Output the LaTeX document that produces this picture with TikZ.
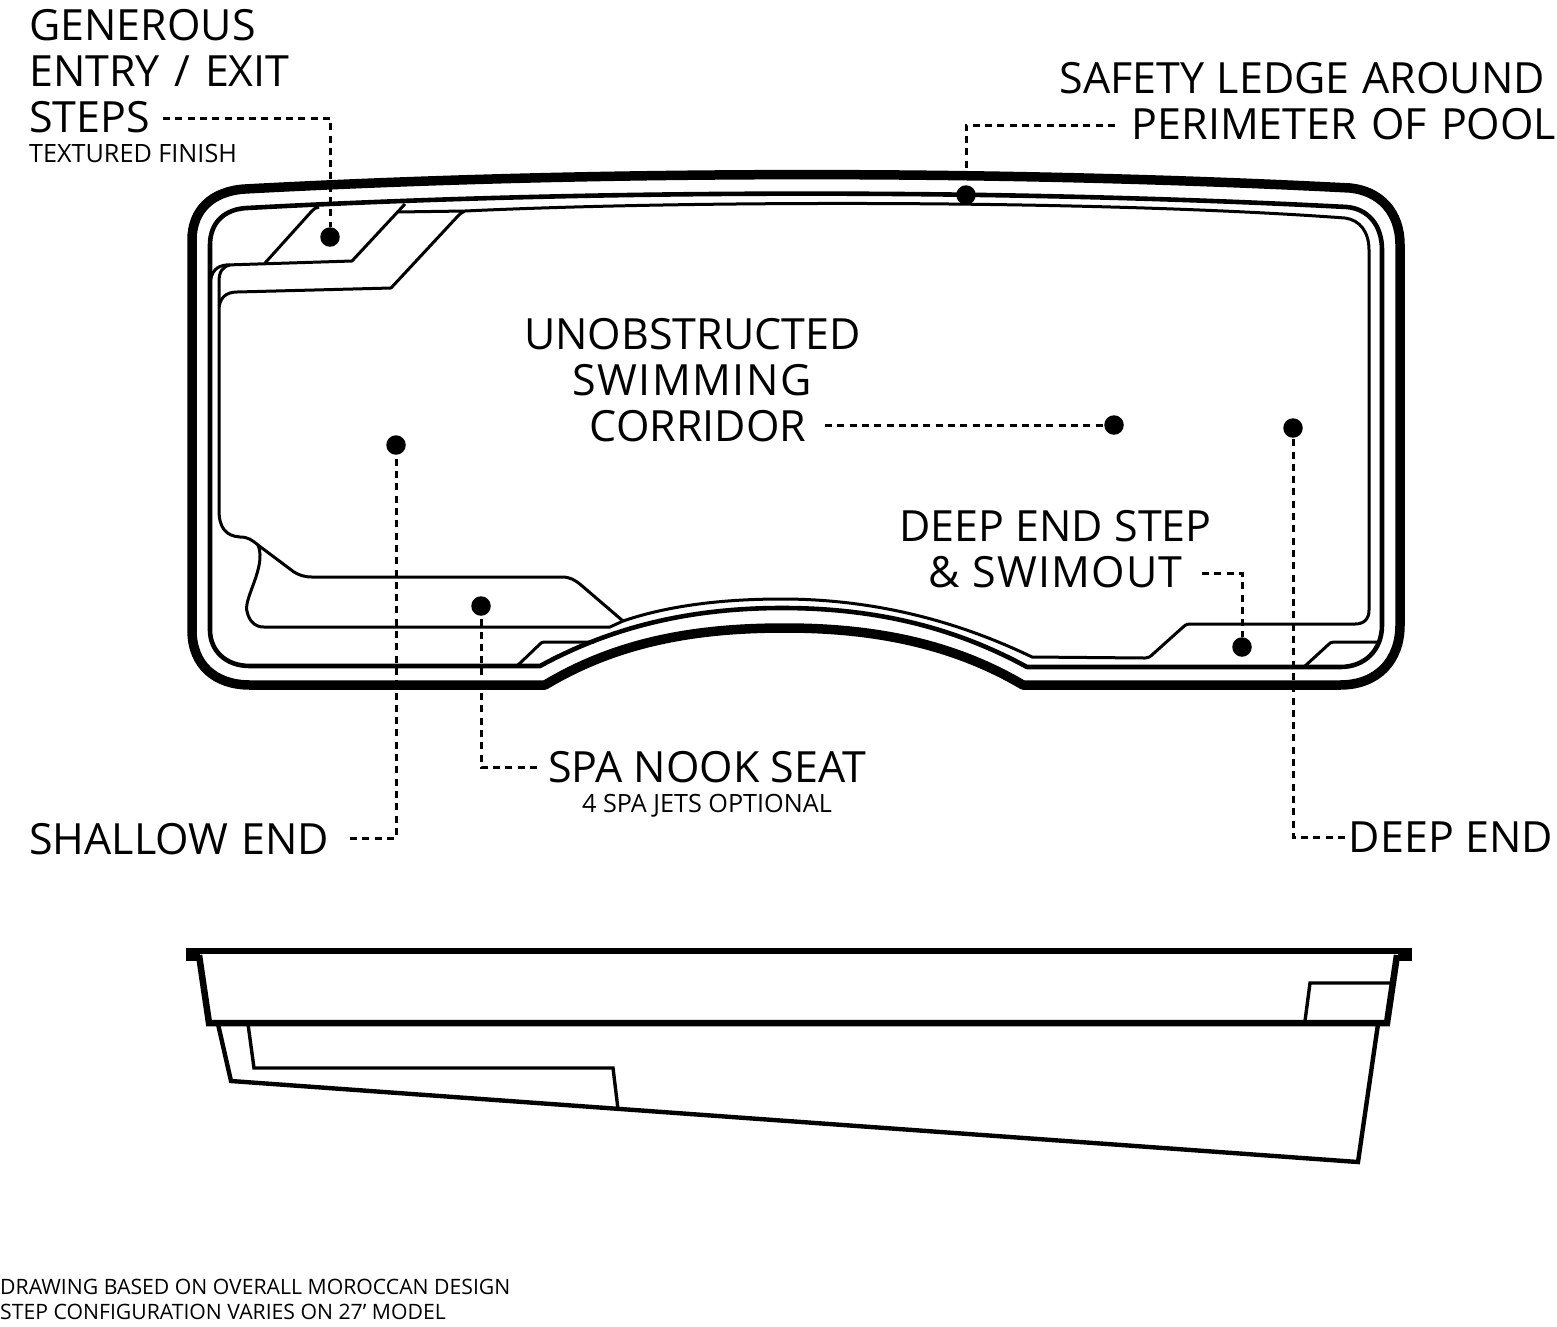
\documentclass[tikz,border=0pt]{standalone}
\usepackage{fontspec}
\setmainfont{Open Sans}
\newcommand{\wsp}[1]{\hspace{#1pt}}
\tikzset{
  x=1pt,y=-1pt,
  outerline/.style={line width=9.5pt,line join=round,black},
  midline/.style={line width=4.6pt,line join=round,black},
  innerline/.style={line width=3pt,line join=round,black},
  sideheavy/.style={line width=6.5pt,line join=miter,black},
  sidemid/.style={line width=4.4pt,line join=miter,black},
  sidethin/.style={line width=3.4pt,line join=miter,black},
  leader/.style={line width=3pt,black,dash pattern=on 7pt off 5.3pt},
  marker/.style={circle,fill=black,draw=none,minimum size=19.5pt,inner sep=0pt},
  biglabel/.style={inner sep=0pt,font=\fontsize{43}{46}\selectfont},
  smalllabel/.style={inner sep=0pt,font=\fontsize{25.2}{30}\selectfont},
  notelabel/.style={inner sep=0pt,font=\fontsize{21.2}{25}\selectfont},
}
\begin{document}
\begin{tikzpicture}
\useasboundingbox (0,0) rectangle (1557,1326);
\fill[white] (0,0) rectangle (1557,1326);
% outer coping
\draw[outerline] (192,240) .. controls (192,210) and (212,191) .. (245,189)
  .. controls (600,170) and (1000,170) .. (1350,188)
  .. controls (1380,191) and (1400,212) .. (1400,245)
  -- (1400,625) .. controls (1400,660) and (1378,685) .. (1340,685)
  -- (1023,685) .. controls (950,642) and (870,628) .. (785,628)
  .. controls (700,628) and (620,640) .. (545,685)
  -- (250,685) .. controls (215,685) and (192,665) .. (192,630) -- cycle;
% ledge
\draw[midline] (210,245) .. controls (210,222) and (225,209) .. (247,208)
  .. controls (600,189) and (1000,189) .. (1347,207)
  .. controls (1368,209) and (1382,225) .. (1382,250)
  -- (1382,625) .. controls (1382,650) and (1365,667) .. (1340,667)
  -- (1027,667) .. controls (950,625) and (870,608) .. (782,608)
  .. controls (695,608) and (615,625) .. (540,666)
  -- (250,666) .. controls (225,666) and (210,650) .. (210,630) -- cycle;
% pool floor outline
\draw[innerline] (397,212) -- (465,211) .. controls (700,200) and (1100,200) .. (1345,218)
  .. controls (1360,220) and (1369,232) .. (1369,250)
  -- (1369,610) .. controls (1369,619) and (1364,624) .. (1355,624)
  -- (1190,624) .. controls (1186,624) and (1184,626) .. (1182,628)
  -- (1153,654) .. controls (1150,657) and (1148,658) .. (1145,658)
  -- (1032,657) .. controls (945,615) and (860,599) .. (782,599)
  .. controls (725,599) and (670,605) .. (623,621)
  -- (581,585) .. controls (575,580) and (570,577) .. (562,577)
  -- (312,577) .. controls (304,577) and (299,575) .. (294,572)
  -- (258,545) .. controls (252,540) and (248,537) .. (240,537)
  .. controls (226,536) and (219,528) .. (219,510)
  -- (219,310) .. controls (219,298) and (226,292) .. (237,292)
  -- (391,288) -- (457,217) .. controls (460,214) and (462,212) .. (465,211);
% spa seat
\draw[innerline] (258,545) .. controls (263,557) and (258,572) .. (252,588)
  .. controls (247,602) and (245,608) .. (248,615)
  .. controls (251,623) and (256,627) .. (264,627)
  -- (610,627) -- (623,621);
% entry steps
\draw[innerline] (210,284) .. controls (211,271) and (217,266) .. (226,265)
  -- (352,261) -- (405,204);
\draw[innerline] (219,306) -- (219,282) .. controls (219,272) and (222,267) .. (230,265);
\draw[innerline] (265,263) -- (311,212) .. controls (314,209) and (316,207) .. (319,207);
% bench corners
\draw[innerline] (517,666) -- (540,644) .. controls (541,643) and (542,642) .. (544,642) -- (594,642);
\draw[innerline] (1305,666) -- (1329,644) .. controls (1330,643) and (1331,642) .. (1334,642) -- (1379,642);
% side view
\draw[sideheavy] (186,951) -- (1412,951);
\fill[black] (186,948) rectangle (200,961);
\fill[black] (1398,948) rectangle (1412,961);
\draw[sideheavy] (199,955) -- (209,1023) -- (1387,1023) -- (1397,955);
\draw[sidemid] (218,1024) -- (231,1081) -- (1358,1162) -- (1378,1024);
\draw[sidethin] (248,1024) -- (254,1068) -- (613,1068) -- (618,1109);
\draw[sidethin] (1305,1021) -- (1310,983) -- (1392,983);
% markers
\node[marker] (mSteps) at (330,237) {};
\node[marker] (mLedge) at (966,195) {};
\node[marker] (mShallow) at (396,445) {};
\node[marker] (mCorridor) at (1114,425) {};
\node[marker] (mDeep) at (1293,428) {};
\node[marker] (mSpa) at (481,606) {};
\node[marker] (mSwimout) at (1242,647) {};
% labels
\node[biglabel,anchor=north west,align=left] (lSteps) at (29,9) {GENEROUS\\ENTRY\wsp{3.5} /\wsp{3.5} EXIT\\STEPS};
\node[smalllabel,anchor=base west] (lTextured) at (29,162) {TEXTURED FINISH};
\node[biglabel,anchor=base east] (lLedgeA) at (1545,93.5) {SAFETY\wsp{1.5} LEDGE\wsp{1.5} AROUND};
\node[biglabel,anchor=base east] (lLedgeB) at (1556.5,139.5) {PERIMETER\wsp{3} OF\wsp{3} POOL};
\node[biglabel,anchor=base] (lCorrA) at (692.5,349.5) {UNOBSTRUCTED};
\node[biglabel,anchor=base] (lCorrB) at (692,395.5) {\addfontfeature{LetterSpace=3.5}SWIMMING};
\node[biglabel,anchor=base] (lCorrC) at (698,441.5) {CORRIDOR};
\node[biglabel,anchor=base] (lSwimA) at (1055.5,541.5) {DEEP END STEP};
\node[biglabel,anchor=base] (lSwimB) at (1055.5,587.5) {\addfontfeature{LetterSpace=3}\& SWIMOUT};
\node[biglabel,anchor=base west] (lSpa) at (548,782.5) {SPA NOOK SEAT};
\node[smalllabel,anchor=base] (lJets) at (707,812) {4 SPA JETS OPTIONAL};
\node[biglabel,anchor=base west] (lShallow) at (29,854.5) {SHALLOW\wsp{2} END};
\node[biglabel,anchor=base east] (lDeep) at (1553,852.5) {DEEP END};
\node[notelabel,anchor=base west,align=left] (lNoteA) at (0,1294) {DRAWING BASED ON OVERALL MOROCCAN DESIGN};
\node[notelabel,anchor=base west,align=left] (lNoteB) at (0,1319) {STEP CONFIGURATION VARIES ON 27’ MODEL};
% leaders
\coordinate (fSteps) at (163,118);
\coordinate (fLedge) at (1115,125);
\coordinate (fCorr) at (825,425);
\coordinate (fShallow) at (350,838);
\coordinate (fSpa) at (537,767);
\coordinate (fDeep) at (1345,837);
\coordinate (fSwim) at (1202,573);
\draw[leader] (fSteps) -| (mSteps);
\draw[leader] (fLedge) -| (mLedge);
\draw[leader] (fCorr) -- (mCorridor);
\draw[leader] (fShallow) -| (mShallow);
\draw[leader] (fSpa) -| (mSpa);
\draw[leader] (fDeep) -| (mDeep);
\draw[leader] (fSwim) -| (mSwimout);
\end{tikzpicture}
\end{document}
